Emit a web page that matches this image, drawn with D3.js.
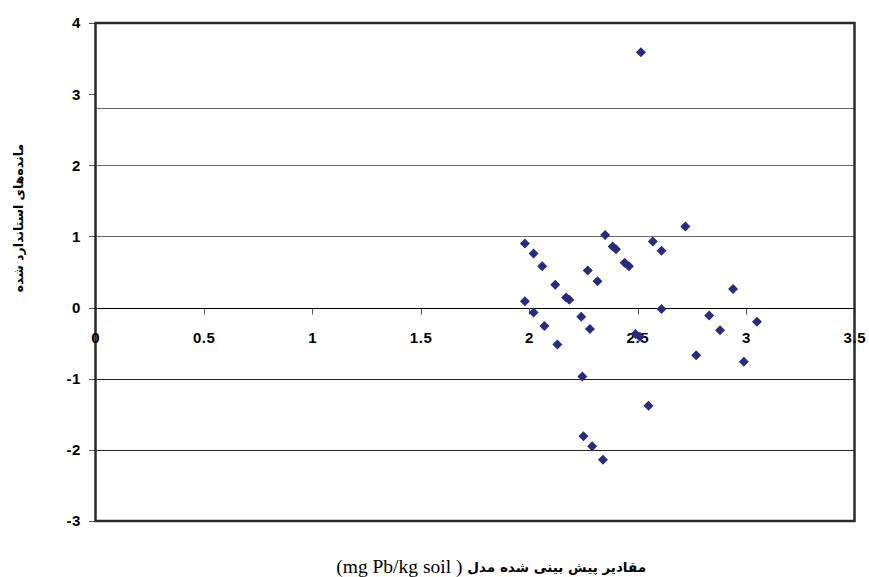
<!DOCTYPE html>
<html><head><meta charset="utf-8">
<script src="https://cdn.jsdelivr.net/npm/d3@7"></script>
<style>body{margin:0;background:#fff}svg{display:block}</style>
</head><body>
<svg id="c" width="869" height="577"></svg>
<script>
const predicted = [1.98,2.02,2.06,2.12,2.17,2.185,1.98,2.02,2.07,2.13,2.27,2.315,2.24,2.28,2.35,2.385,2.40,2.44,2.46,2.57,2.61,2.61,2.49,2.51,2.245,2.55,2.25,2.29,2.34,2.72,2.94,2.83,2.88,3.05,2.77,2.99,2.515];
const residuals = [0.90,0.76,0.58,0.32,0.14,0.11,0.09,-0.07,-0.26,-0.52,0.52,0.37,-0.13,-0.30,1.02,0.86,0.82,0.63,0.58,0.93,0.80,-0.02,-0.37,-0.41,-0.97,-1.38,-1.81,-1.95,-2.14,1.14,0.26,-0.11,-0.32,-0.20,-0.67,-0.76,3.59];
const xTicks = [0,0.5,1,1.5,2,2.5,3,3.5];
const yTicks = [4,3,2,1,0,-1,-2,-3];
const gridValues = [2,1,-1,-2];
const referenceLines = [2.8];
const yTitle = "مانده‌های استاندارد شده";
const xTitlePersian = "مقادیر پیش بینی شده مدل";
const xTitleUnit = " ( mg Pb/kg soil)";

const svg = d3.select("#c");
const L = 95.5, R = 854.5, T = 23, B = 521;
const x = d3.scaleLinear().domain([0,3.5]).range([L,R]);
const y = d3.scaleLinear().domain([-3,4]).range([B,T]);
const tickFont = "Liberation Sans, Arial, sans-serif";

// gridlines
svg.append("g").selectAll("line").data(gridValues.concat(referenceLines)).join("line")
  .attr("x1",L).attr("x2",R).attr("y1",d=>Math.round(y(d))+0.5).attr("y2",d=>Math.round(y(d))+0.5)
  .attr("stroke",d=>d>0?"#6a6a6a":"#222").attr("stroke-width",1);

// y axis ticks and labels
const yg = svg.append("g");
yg.selectAll("line").data(yTicks).join("line")
  .attr("x1",89).attr("x2",L).attr("y1",d=>Math.round(y(d))+0.5).attr("y2",d=>Math.round(y(d))+0.5)
  .attr("stroke","#555");
yg.selectAll("text").data(yTicks).join("text")
  .attr("x",81).attr("y",d=>y(d)).attr("dy","0.36em").attr("text-anchor","end")
  .attr("font-family",tickFont).attr("font-weight","bold").attr("font-size",15).attr("letter-spacing",0.6)
  .text(d=>d);

// frame
svg.append("rect").attr("x",L).attr("y",T).attr("width",R-L).attr("height",B-T)
  .attr("fill","none").attr("stroke","#2a2a2a").attr("stroke-width",2.5);

// x axis line at y=0
const y0 = Math.round(y(0))+0.5;
svg.append("line").attr("x1",L).attr("x2",R).attr("y1",y0).attr("y2",y0).attr("stroke","#000");
const xg = svg.append("g");
xg.selectAll("line").data(xTicks).join("line")
  .attr("x1",d=>Math.round(x(d))+0.5).attr("x2",d=>Math.round(x(d))+0.5).attr("y1",y0).attr("y2",y0+6)
  .attr("stroke","#555");
xg.selectAll("text").data(xTicks).join("text")
  .attr("x",d=>x(d)+0.3).attr("y",y0+34).attr("text-anchor","middle")
  .attr("font-family",tickFont).attr("font-weight","bold").attr("font-size",15).attr("letter-spacing",0.6)
  .text(d=>d);

// points
svg.append("g").selectAll("path").data(predicted.map((p,i)=>[p,residuals[i]])).join("path")
  .attr("transform",d=>`translate(${x(d[0])},${y(d[1])}) rotate(45)`)
  .attr("d",d3.symbol(d3.symbolSquare,50))
  .attr("fill","#2b2b7d");

// titles
svg.append("text").attr("transform","translate(23,218) rotate(-90)")
  .attr("text-anchor","middle").attr("font-family","DejaVu Sans, sans-serif").attr("font-weight","bold")
  .attr("font-size",12.5).text(yTitle);
const xt = svg.append("text").attr("x",646).attr("y",573).attr("direction","rtl").attr("text-anchor","start");
xt.append("tspan").attr("font-family","DejaVu Sans, sans-serif").attr("font-weight","bold")
  .attr("font-size",13.5).attr("dy",-1).text(xTitlePersian);
xt.append("tspan").attr("font-family","Liberation Serif, Times New Roman, serif")
  .attr("font-size",19.5).attr("dy",1).text(xTitleUnit);
</script>
</body></html>
